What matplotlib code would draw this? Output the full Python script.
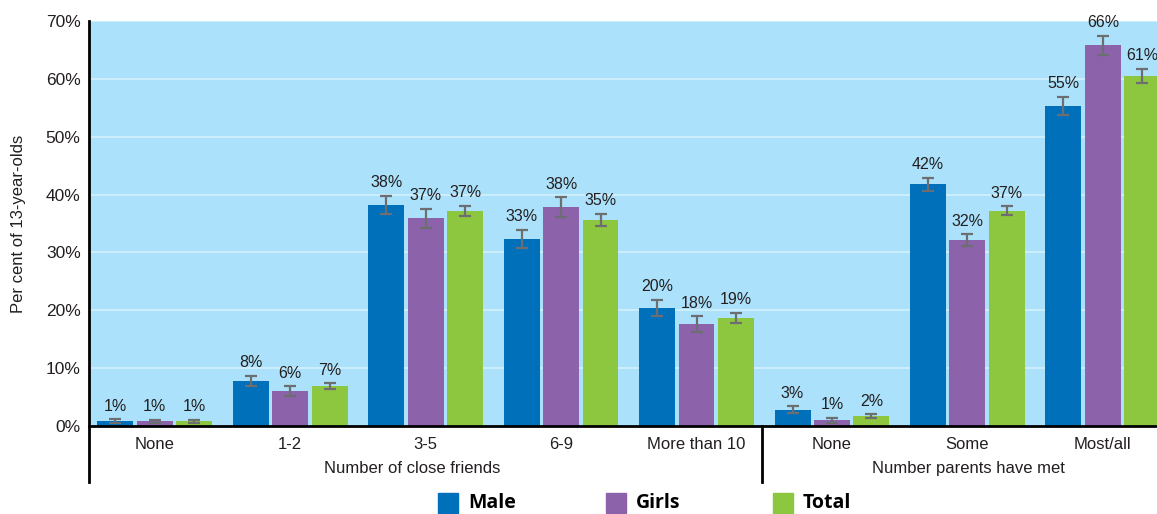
import matplotlib
matplotlib.use("Agg")
import matplotlib.pyplot as plt
import numpy as np
from matplotlib.patches import Rectangle
from matplotlib.transforms import blended_transform_factory

categories = ["None", "1-2", "3-5", "6-9", "More than 10", "None", "Some", "Most/all"]
group_names = ["Number of close friends", "Number parents have met"]
series_names = ["Male", "Girls", "Total"]

male = [0.9, 7.8, 38.2, 32.3, 20.4, 2.8, 41.8, 55.3]
girls = [0.8, 6.0, 35.9, 37.8, 17.6, 1.0, 32.1, 65.8]
total = [0.8, 6.9, 37.2, 35.6, 18.7, 1.7, 37.2, 60.5]

male_err = [0.3, 0.9, 1.6, 1.6, 1.4, 0.6, 1.1, 1.6]
girls_err = [0.3, 0.9, 1.6, 1.7, 1.4, 0.45, 1.0, 1.6]
total_err = [0.3, 0.5, 0.9, 1.1, 0.9, 0.3, 0.8, 1.2]

male_lbl = ["1%", "8%", "38%", "33%", "20%", "3%", "42%", "55%"]
girls_lbl = ["1%", "6%", "37%", "38%", "18%", "1%", "32%", "66%"]
total_lbl = ["1%", "7%", "37%", "35%", "19%", "2%", "37%", "61%"]

yticks = [0, 10, 20, 30, 40, 50, 60, 70]
ytick_labels = ["0%", "10%", "20%", "30%", "40%", "50%", "60%", "70%"]

colors = ["#0070BA", "#8C62AA", "#8DC63F"]
bg = "#ABE1FA"
err_col = "#6D6E71"

W, H = 1157, 514
fig = plt.figure(figsize=(W / 100, H / 100), dpi=100)
plt.rcParams['font.family'] = ['Liberation Sans', 'DejaVu Sans']
ax = fig.add_axes([89 / W, 1 - 426 / H, 1 - 89 / W, (426 - 21) / H])
ax.set_facecolor(bg)

x = np.arange(len(categories))
width = 0.265
step = 0.291
series = [(male, male_err, male_lbl), (girls, girls_err, girls_lbl), (total, total_err, total_lbl)]
for i, (vals, errs, lbls) in enumerate(series):
    xs = x + (i - 1) * step
    ax.bar(xs, vals, width=width, color=colors[i], zorder=3)
    ax.errorbar(xs, vals, yerr=errs, fmt='none', ecolor=err_col, elinewidth=1.6,
                capsize=4.5, capthick=1.6, zorder=4)
    for xv, v, e, t in zip(xs, vals, errs, lbls):
        ax.annotate(t, (xv, v + e), xytext=(0, 4), textcoords='offset points',
                    ha='center', va='bottom', fontsize=11.5, color='#231F20', zorder=5)

ax.set_ylim(0, 70)
ax.set_xlim(-0.486, 7.4)
ax.set_yticks(yticks)
ax.set_yticklabels(ytick_labels, fontsize=12.5, color='#231F20')
ax.yaxis.grid(True, color='#D3F0FC', linewidth=1.2, zorder=1)
ax.set_axisbelow(True)
ax.set_xticks(x)
ax.set_xticklabels(categories, fontsize=12, color='#231F20')
ax.tick_params(axis='both', length=0, pad=6)
ax.tick_params(axis='x', pad=8)

for s in ['top', 'right', 'left']:
    ax.spines[s].set_visible(False)
ax.spines['bottom'].set_color('black')
ax.spines['bottom'].set_linewidth(2)
ax.spines['bottom'].set_zorder(6)

ax.plot([0, 0], [-0.138, 1], transform=ax.transAxes, color='black', lw=2, clip_on=False, zorder=6)
tr = blended_transform_factory(ax.transData, ax.transAxes)
ax.plot([4.48, 4.48], [-0.138, 0], transform=tr, color='black', lw=2, clip_on=False, zorder=6)

ax.text(1.9, -0.105, group_names[0], transform=tr, ha='center', va='center', fontsize=12, color='#231F20')
ax.text(6.01, -0.105, group_names[1], transform=tr, ha='center', va='center', fontsize=12, color='#231F20')

ax.set_ylabel("Per cent of 13-year-olds", fontsize=12, color='#231F20', labelpad=14)

# legend
leg_sq = [438, 606, 773]
for i, name in enumerate(series_names):
    fig.patches.append(Rectangle((leg_sq[i] / W, 1 - 513 / H), 20 / W, 20 / H,
                                 transform=fig.transFigure, color=colors[i]))
    fig.text((leg_sq[i] + 30) / W, 1 - 503 / H, name, ha='left', va='center',
             fontsize=14, fontweight='bold', family=['Open Sans', 'DejaVu Sans'], color='black')

fig.savefig("out.png", dpi=100)
